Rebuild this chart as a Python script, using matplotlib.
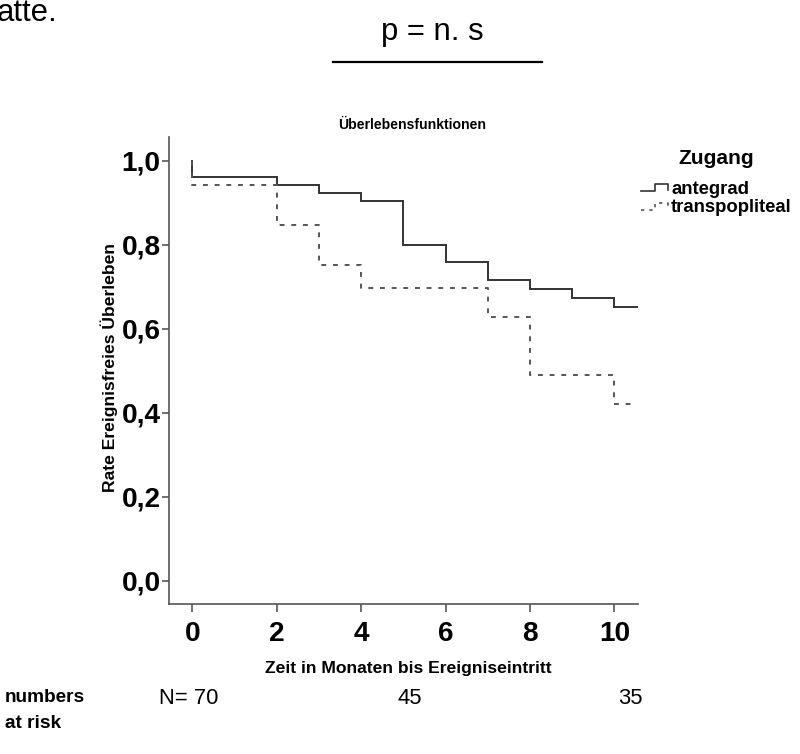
import matplotlib
matplotlib.use("Agg")
import matplotlib.pyplot as plt
from matplotlib.lines import Line2D

plt.rcParams['font.family'] = ['Liberation Sans', 'DejaVu Sans']

# ---- data ----
ante_times = [0, 0, 2, 3, 4, 5, 6, 7, 8, 9, 10, 10.55]
ante_surv = [1.0, 0.962, 0.942, 0.923, 0.903, 0.800, 0.758, 0.716, 0.695, 0.673, 0.652, 0.652]
trans_times = [0, 0, 2, 3, 4, 7, 8, 10, 10.52]
trans_surv = [1.0, 0.943, 0.848, 0.752, 0.698, 0.629, 0.490, 0.420, 0.420]
x_ticks = [0, 2, 4, 6, 8, 10]
y_ticks = [0.0, 0.2, 0.4, 0.6, 0.8, 1.0]
y_ticklabels = ["0,0", "0,2", "0,4", "0,6", "0,8", "1,0"]
series_names = ["antegrad", "transpopliteal"]
risk_labels = ["N= 70", "45", "35"]

W, H = 800, 754
fig = plt.figure(figsize=(W / 100, H / 100), dpi=100)

def fx(px):
    return px / W

def fy(py):
    return 1 - py / H

def pt(px):
    return px * 0.72

ax = fig.add_axes([fx(169), fy(604), fx(638) - fx(169), fy(137) - fy(604)])
ax.step(ante_times, ante_surv, where='post', color='#333333', lw=1.4, solid_joinstyle='miter')
ax.step(trans_times, trans_surv, where='post', color='#555555', lw=1.4,
        linestyle=(0, (2.5, 3.5)))

ax.set_xlim(-0.552, 10.56)
ax.set_ylim(-0.0555, 1.0564)
ax.set_xticks(x_ticks)
ax.set_xticklabels([str(v) for v in x_ticks], fontsize=pt(28), fontweight='bold')
ax.set_yticks(y_ticks)
ax.set_yticklabels(y_ticklabels, fontsize=pt(28), fontweight='bold')
for s in ['top', 'right']:
    ax.spines[s].set_visible(False)
for s in ['left', 'bottom']:
    ax.spines[s].set_color('#555555')
    ax.spines[s].set_linewidth(1.2)
ax.tick_params(axis='x', direction='out', length=6, width=1.2, color='#555555', pad=6)
ax.tick_params(axis='y', direction='out', length=5, width=1.2, color='#555555', pad=1)

# texts
fig.text(fx(-3), fy(21), "atte.", fontsize=pt(31), ha='left', va='baseline')
fig.text(fx(432), fy(40), "p = n. s", fontsize=pt(31), ha='center', va='baseline')
fig.add_artist(Line2D([fx(333), fx(542)], [fy(62), fy(62)], color='black', lw=1.6))
fig.text(fx(412), fy(129), "Überlebensfunktionen", fontsize=pt(14), fontweight='bold',
         ha='center', va='baseline')
fig.text(fx(109), fy(368), "Rate Ereignisfreies Überleben", fontsize=pt(17.5),
         fontweight='bold', rotation=90, ha='center', va='center')
fig.text(fx(408), fy(668), "Zeit in Monaten bis Ereigniseintritt", fontsize=pt(17.5),
         fontweight='bold', ha='center', va='center')

# legend
fig.text(fx(716), fy(158), "Zugang", fontsize=pt(21), fontweight='bold', ha='center', va='center')
fig.add_artist(Line2D([fx(641), fx(655), fx(655), fx(668), fx(668)],
                      [fy(191), fy(191), fy(184), fy(184), fy(190)],
                      color='#333333', lw=1.2))
fig.add_artist(Line2D([fx(641), fx(655), fx(655), fx(668), fx(668)],
                      [fy(210), fy(210), fy(203), fy(203), fy(209)],
                      color='#555555', lw=1.2, linestyle=(0, (2, 3))))
fig.text(fx(671), fy(189), series_names[0], fontsize=pt(18.5), fontweight='bold',
         ha='left', va='center')
fig.text(fx(671), fy(208), series_names[1], fontsize=pt(18.5), fontweight='bold',
         ha='left', va='center')

# numbers at risk
fig.text(fx(5), fy(698), "numbers", fontsize=pt(19), fontweight='bold', ha='left', va='center')
fig.text(fx(5), fy(723), "at risk", fontsize=pt(19), fontweight='bold', ha='left', va='center')
for xpx, lab in zip([189, 410, 630], risk_labels):
    fig.text(fx(xpx), fy(698), lab, fontsize=pt(22), ha='center', va='center')

fig.savefig("out.png", dpi=100)
